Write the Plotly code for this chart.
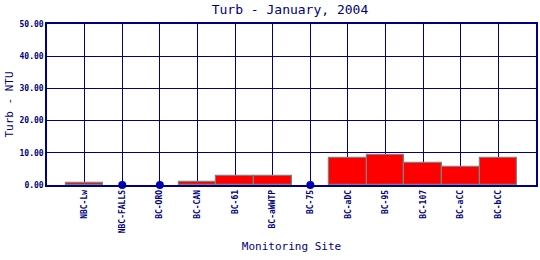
import plotly.graph_objects as go

sites = ["NBC-Lw", "NBC-FALLS", "BC-ORO", "BC-CAN", "BC-61", "BC-aWWTP", "BC-75",
         "BC-aDC", "BC-95", "BC-107", "BC-aCC", "BC-bCC"]
turb = [0.7, 0.0, 0.0, 0.85, 2.7, 2.7, 0.0, 8.3, 9.2, 6.7, 5.5, 8.3]
y_ticks = [0, 10, 20, 30, 40, 50]
y_tick_labels = ["0.00", "10.00", "20.00", "30.00", "40.00", "50.00"]

navy = "#000080"
mono = "DejaVu Sans Mono"

xs = list(range(len(sites)))
bar_x = [x for x, v in zip(xs, turb) if v > 0]
bar_y = [v for v in turb if v > 0]
dot_x = [x for x, v in zip(xs, turb) if v == 0]
dot_y = [v for v in turb if v == 0]

fig = go.Figure()
fig.add_trace(go.Bar(
    x=bar_x, y=bar_y, width=1.0,
    marker=dict(color="#ff0000", line=dict(color="#808080", width=1.2)),
    hoverinfo="skip",
))
fig.add_trace(go.Scatter(
    x=dot_x, y=dot_y, mode="markers",
    marker=dict(color="#0000cc", size=8),
    cliponaxis=False, hoverinfo="skip",
))

fig.update_layout(
    template="none",
    width=540, height=260,
    margin=dict(l=47, r=4, t=24, b=75, autoexpand=False),
    paper_bgcolor="white", plot_bgcolor="white",
    showlegend=False, bargap=0,
    title=dict(text="Turb - January, 2004", x=0.537, xanchor="center",
               y=0.965, yanchor="middle",
               font=dict(family=mono, size=13, color=navy)),
    xaxis=dict(
        automargin=False,
        range=[-1, 12], tickmode="array", tickvals=xs, ticktext=sites,
        tickangle=-90, tickfont=dict(family=mono, size=8, color=navy, weight="bold"),
        showgrid=True, gridcolor=navy, gridwidth=1,
        showline=True, linecolor=navy, linewidth=1.5, mirror=True,
        ticks="", zeroline=False,
        title=dict(text="Monitoring Site", font=dict(family=mono, size=11, color=navy),
                   standoff=10),
    ),
    yaxis=dict(
        automargin=False,
        range=[0, 50], tickmode="array", tickvals=y_ticks, ticktext=y_tick_labels,
        tickfont=dict(family=mono, size=8, color=navy, weight="bold"),
        showgrid=True, gridcolor=navy, gridwidth=1,
        showline=True, linecolor=navy, linewidth=1.5, mirror=True,
        ticks="", zeroline=False,
        title=dict(text="Turb - NTU", font=dict(family=mono, size=11, color=navy),
                   standoff=4),
    ),
)

fig.write_html("out.html")
